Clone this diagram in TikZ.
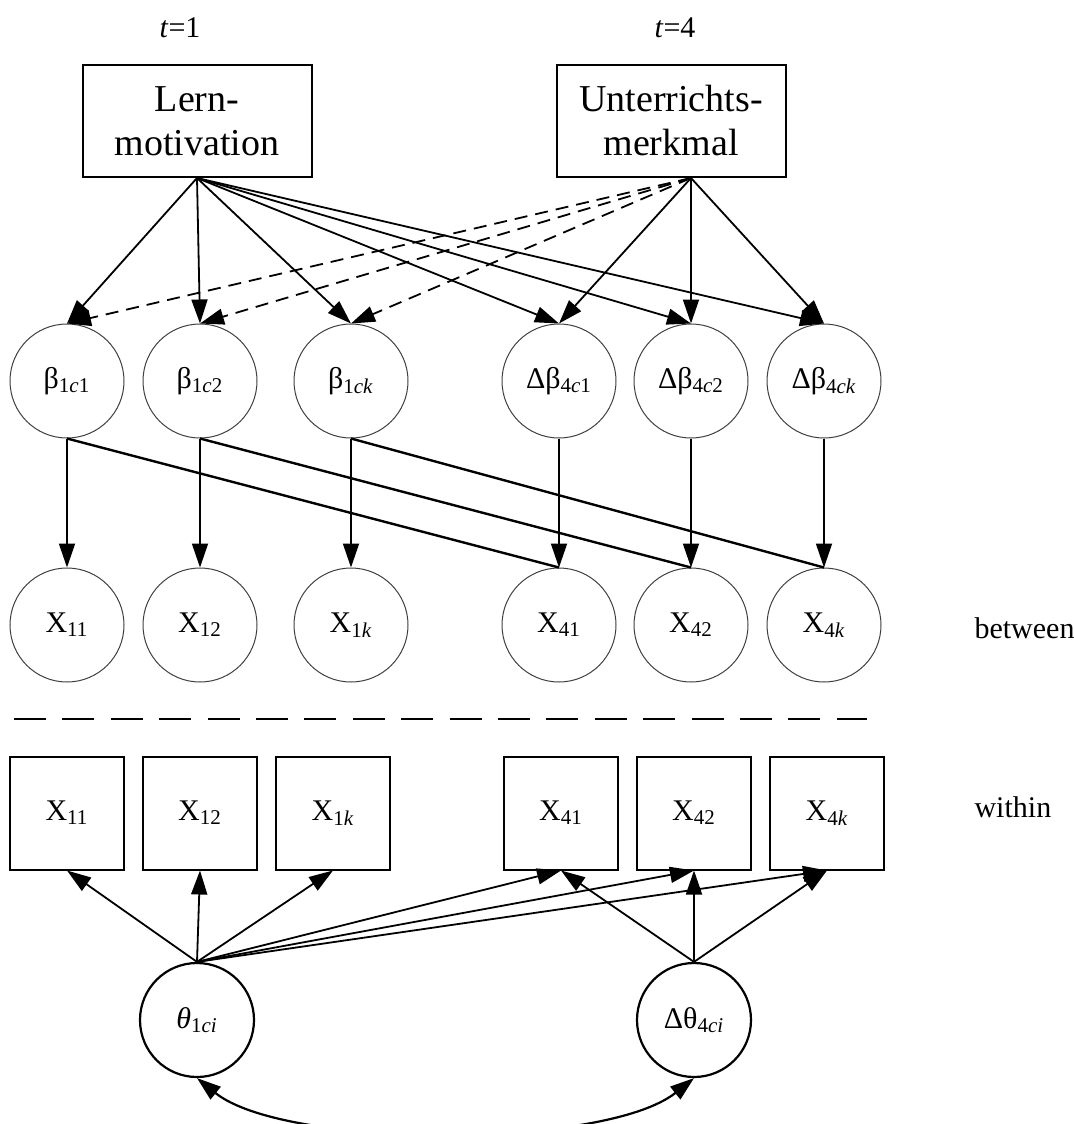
\documentclass[tikz,border=0pt]{standalone}
\usepackage{fontspec}
\setmainfont{Liberation Serif}
\usetikzlibrary{arrows.meta}

\begin{document}
\begin{tikzpicture}[x=0.5pt,y=-0.5pt,>={Triangle[length=12pt,width=8pt]},line width=0.9pt,
  top node/.style={rectangle,draw,line width=1pt,minimum width=114.5pt,minimum height=56pt,
    align=center,font=\fontsize{19}{22}\selectfont},
  latent node/.style={circle,draw=black!75,line width=0.5pt,minimum size=57pt,inner sep=0pt,
    font=\fontsize{15}{18}\selectfont},
  obs node/.style={rectangle,draw,line width=1pt,minimum width=57pt,minimum height=56.5pt,
    inner sep=0pt,font=\fontsize{15}{18}\selectfont},
  factor node/.style={circle,draw,line width=1.1pt,minimum size=57pt,inner sep=0pt,
    font=\fontsize{15}{18}\selectfont},
  plain label/.style={font=\fontsize{15}{18}\selectfont}]

  \useasboundingbox (0,0) rectangle (1073,1124);

  % time points and predictors
  \node[plain label] (t1) at (180,28) {\textit{t}=1};
  \node[plain label] (t4) at (675,28) {\textit{t}=4};
  \node[top node] (lern) at (197,121) {Lern-\\motivation};
  \node[top node] (unt) at (671,121) {Unterrichts-\\merkmal};

  % between level
  \node[latent node] (b1) at (67,381) {β\textsubscript{1\textit{c}1}};
  \node[latent node] (b2) at (200,381) {β\textsubscript{1\textit{c}2}};
  \node[latent node] (b3) at (351,381) {β\textsubscript{1\textit{ck}}};
  \node[latent node] (d1) at (559,381) {Δβ\textsubscript{4\textit{c}1}};
  \node[latent node] (d2) at (691,381) {Δβ\textsubscript{4\textit{c}2}};
  \node[latent node] (d3) at (824,381) {Δβ\textsubscript{4\textit{ck}}};

  \node[latent node] (x11) at (67,625) {X\textsubscript{11}};
  \node[latent node] (x12) at (200,625) {X\textsubscript{12}};
  \node[latent node] (x1k) at (351,625) {X\textsubscript{1\textit{k}}};
  \node[latent node] (x41) at (559,625) {X\textsubscript{41}};
  \node[latent node] (x42) at (691,625) {X\textsubscript{42}};
  \node[latent node] (x4k) at (824,625) {X\textsubscript{4\textit{k}}};
  \node[plain label,anchor=west] (betw) at (967,628) {between};

  \coordinate (sepL) at (14,719);
  \coordinate (sepR) at (867,719);
  \draw[line width=1pt,dash pattern=on 16pt off 8.2pt] (sepL) -- (sepR);

  % within level
  \node[obs node] (w11) at (67,813) {X\textsubscript{11}};
  \node[obs node] (w12) at (200,813) {X\textsubscript{12}};
  \node[obs node] (w1k) at (333,813) {X\textsubscript{1\textit{k}}};
  \node[obs node] (w41) at (561,813) {X\textsubscript{41}};
  \node[obs node] (w42) at (694,813) {X\textsubscript{42}};
  \node[obs node] (w4k) at (827,813) {X\textsubscript{4\textit{k}}};
  \node[plain label,anchor=west] (with) at (967,807) {within};

  \node[factor node] (th) at (197,1020) {\textit{θ}\textsubscript{1\textit{ci}}};
  \node[factor node] (dth) at (694,1020) {Δθ\textsubscript{4\textit{ci}}};

  \coordinate (uo) at (d2.north |- unt.south);

  % paths
  \foreach \n in {b1,b2,b3,d1,d2,d3}
    \draw[->] (lern.south) -- (\n.north);
  \foreach \n in {d1,d2,d3}
    \draw[->] (uo) -- (\n.north);
  \foreach \n in {b1,b2,b3}
    \draw[->,dash pattern=on 6.5pt off 4pt] (uo) -- (\n.north);

  \draw[->] (b1.south) -- (x11.north);
  \draw[->] (b2.south) -- (x12.north);
  \draw[->] (b3.south) -- (x1k.north);
  \draw[->] (d1.south) -- (x41.north);
  \draw[->] (d2.south) -- (x42.north);
  \draw[->] (d3.south) -- (x4k.north);
  \draw[line width=1.2pt] (b1.south) -- (x41.north);
  \draw[line width=1.2pt] (b2.south) -- (x42.north);
  \draw[line width=1.2pt] (b3.south) -- (x4k.north);

  \foreach \n in {w11,w12,w1k,w41,w42,w4k}
    \draw[->] (th.north) -- (\n.south);
  \foreach \n in {w41,w42,w4k}
    \draw[->] (dth.north) -- (\n.south);

  \draw[<->,line width=1.1pt] (th.south) .. controls (285,1149) and (605,1149) .. (dth.south);
\end{tikzpicture}
\end{document}
